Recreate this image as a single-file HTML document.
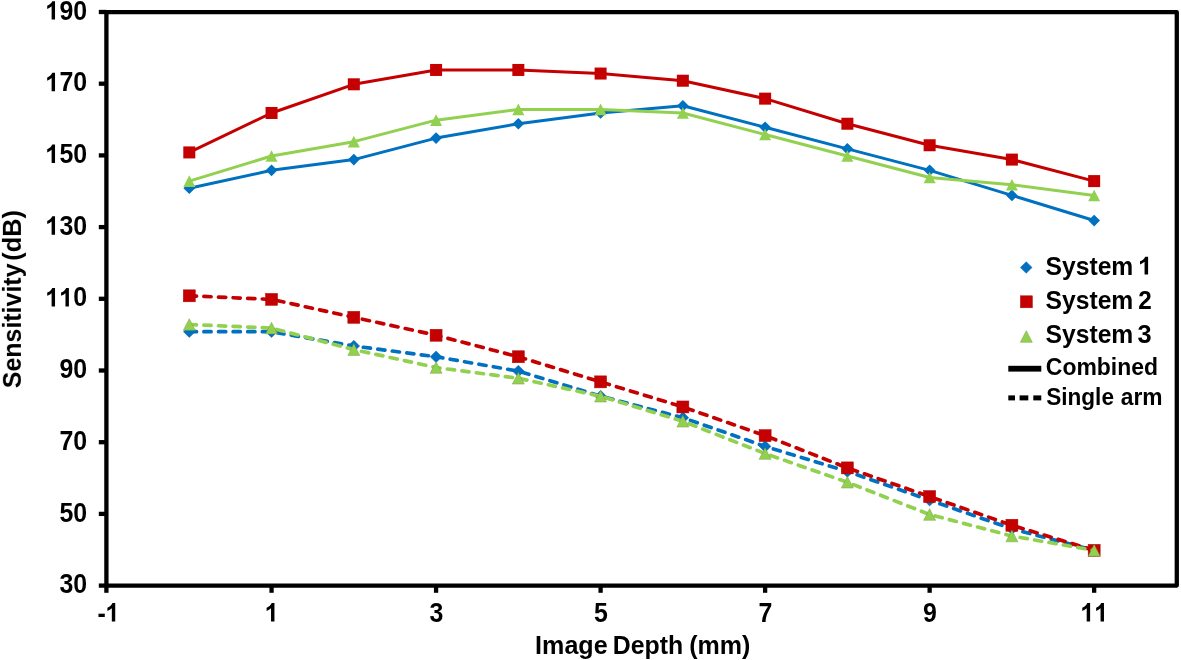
<!DOCTYPE html>
<html><head><meta charset="utf-8"><style>
html,body{margin:0;padding:0;background:#fff;}
svg{display:block;}
text{will-change:transform;}
text{font-family:"Liberation Sans",sans-serif;font-weight:bold;font-size:26px;fill:#000;}
</style></head><body>
<svg width="1181" height="660" viewBox="0 0 1181 660">
<rect width="1181" height="660" fill="#fff"/>
<rect x="106.4" y="12.2" width="1070.4" height="573.4" fill="none" stroke="#000" stroke-width="4.3" stroke-linejoin="round"/>
<line x1="98.8" y1="585.6" x2="106.4" y2="585.6" stroke="#000" stroke-width="4.3"/>
<line x1="98.8" y1="513.9" x2="106.4" y2="513.9" stroke="#000" stroke-width="4.3"/>
<line x1="98.8" y1="442.2" x2="106.4" y2="442.2" stroke="#000" stroke-width="4.3"/>
<line x1="98.8" y1="370.5" x2="106.4" y2="370.5" stroke="#000" stroke-width="4.3"/>
<line x1="98.8" y1="298.8" x2="106.4" y2="298.8" stroke="#000" stroke-width="4.3"/>
<line x1="98.8" y1="227.1" x2="106.4" y2="227.1" stroke="#000" stroke-width="4.3"/>
<line x1="98.8" y1="155.4" x2="106.4" y2="155.4" stroke="#000" stroke-width="4.3"/>
<line x1="98.8" y1="83.7" x2="106.4" y2="83.7" stroke="#000" stroke-width="4.3"/>
<line x1="98.8" y1="12" x2="106.4" y2="12" stroke="#000" stroke-width="4.3"/>
<line x1="106.4" y1="585.6" x2="106.4" y2="592.8" stroke="#000" stroke-width="4.3"/>
<line x1="271.56" y1="585.6" x2="271.56" y2="592.8" stroke="#000" stroke-width="4.3"/>
<line x1="436.08" y1="585.6" x2="436.08" y2="592.8" stroke="#000" stroke-width="4.3"/>
<line x1="600.6" y1="585.6" x2="600.6" y2="592.8" stroke="#000" stroke-width="4.3"/>
<line x1="765.12" y1="585.6" x2="765.12" y2="592.8" stroke="#000" stroke-width="4.3"/>
<line x1="929.64" y1="585.6" x2="929.64" y2="592.8" stroke="#000" stroke-width="4.3"/>
<line x1="1094.16" y1="585.6" x2="1094.16" y2="592.8" stroke="#000" stroke-width="4.3"/>
<text transform="translate(87.1 593.2) scale(0.93 1)" x="-29.81 -14.9" y="0 0" style="font-size:26.8px">30</text>
<text transform="translate(87.1 521.5) scale(0.93 1)" x="-29.81 -14.9" y="0 0" style="font-size:26.8px">50</text>
<text transform="translate(87.1 449.8) scale(0.93 1)" x="-29.81 -14.9" y="0 0" style="font-size:26.8px">70</text>
<text transform="translate(87.1 378.1) scale(0.93 1)" x="-29.81 -14.9" y="0 0" style="font-size:26.8px">90</text>
<text transform="translate(87.1 306.4) scale(0.93 1)" x="-14.9" y="0" style="font-size:26.8px">0</text><path d="M782 0H501V1013Q347 875 138 809V1053Q248 1088 377 1184Q506 1280 554 1409H782Z" transform="translate(45.52 306.4) scale(0.012170 -0.013086)"/><path d="M782 0H501V1013Q347 875 138 809V1053Q248 1088 377 1184Q506 1280 554 1409H782Z" transform="translate(59.38 306.4) scale(0.012170 -0.013086)"/>
<text transform="translate(87.1 234.7) scale(0.93 1)" x="-29.81 -14.9" y="0 0" style="font-size:26.8px">30</text><path d="M782 0H501V1013Q347 875 138 809V1053Q248 1088 377 1184Q506 1280 554 1409H782Z" transform="translate(45.52 234.7) scale(0.012170 -0.013086)"/>
<text transform="translate(87.1 163) scale(0.93 1)" x="-29.81 -14.9" y="0 0" style="font-size:26.8px">50</text><path d="M782 0H501V1013Q347 875 138 809V1053Q248 1088 377 1184Q506 1280 554 1409H782Z" transform="translate(45.52 163) scale(0.012170 -0.013086)"/>
<text transform="translate(87.1 91.3) scale(0.93 1)" x="-29.81 -14.9" y="0 0" style="font-size:26.8px">70</text><path d="M782 0H501V1013Q347 875 138 809V1053Q248 1088 377 1184Q506 1280 554 1409H782Z" transform="translate(45.52 91.3) scale(0.012170 -0.013086)"/>
<text transform="translate(87.1 19.6) scale(0.93 1)" x="-29.81 -14.9" y="0 0" style="font-size:26.8px">90</text><path d="M782 0H501V1013Q347 875 138 809V1053Q248 1088 377 1184Q506 1280 554 1409H782Z" transform="translate(45.52 19.6) scale(0.012170 -0.013086)"/>
<text transform="translate(108.5 621.5) scale(0.93 1)" x="-11.91" y="1" style="font-size:26.8px">-</text><path d="M782 0H501V1013Q347 875 138 809V1053Q248 1088 377 1184Q506 1280 554 1409H782Z" transform="translate(105.72 621.5) scale(0.012170 -0.013086)"/>
<path d="M782 0H501V1013Q347 875 138 809V1053Q248 1088 377 1184Q506 1280 554 1409H782Z" transform="translate(264.93 621.5) scale(0.012170 -0.013086)"/>
<text transform="translate(436.38 621.5) scale(0.93 1)" x="-7.45" y="0" style="font-size:26.8px">3</text>
<text transform="translate(600.9 621.5) scale(0.93 1)" x="-7.45" y="0" style="font-size:26.8px">5</text>
<text transform="translate(765.42 621.5) scale(0.93 1)" x="-7.45" y="0" style="font-size:26.8px">7</text>
<text transform="translate(929.94 621.5) scale(0.93 1)" x="-7.45" y="0" style="font-size:26.8px">9</text>
<path d="M782 0H501V1013Q347 875 138 809V1053Q248 1088 377 1184Q506 1280 554 1409H782Z" transform="translate(1080.6 621.5) scale(0.012170 -0.013086)"/><path d="M782 0H501V1013Q347 875 138 809V1053Q248 1088 377 1184Q506 1280 554 1409H782Z" transform="translate(1094.46 621.5) scale(0.012170 -0.013086)"/>
<text x="535.12" y="653.8" textLength="72.54" lengthAdjust="spacingAndGlyphs" style="font-size:26.6px">Image</text>
<text x="612.84" y="653.8" textLength="70.4" lengthAdjust="spacingAndGlyphs" style="font-size:26.6px">Depth</text>
<text x="689.25" y="653.8" textLength="61.19" lengthAdjust="spacingAndGlyphs" style="font-size:26.6px">(mm)</text>
<g transform="translate(20.9 0) rotate(-90)"><text x="-388.22" y="0" textLength="124.75" lengthAdjust="spacingAndGlyphs">Sensitivity</text><text x="-260.66" y="0" textLength="50.73" lengthAdjust="spacingAndGlyphs">(dB)</text></g>
<path d="M189.3 188.27 L271.56 170.34 L353.82 159.59 L436.08 138.08 L518.34 123.74 L600.6 112.98 L682.86 105.81 L765.12 127.32 L847.38 148.83 L929.64 170.34 L1011.9 195.44 L1094.16 220.53" fill="none" stroke="#0070C0" stroke-width="3.0" stroke-linecap="round" stroke-linejoin="round"/>
<path d="M189.3 182.42L195.15 188.27L189.3 194.12L183.45 188.27Z" fill="#0070C0"/>
<path d="M271.56 164.49L277.41 170.34L271.56 176.19L265.71 170.34Z" fill="#0070C0"/>
<path d="M353.82 153.74L359.67 159.59L353.82 165.44L347.97 159.59Z" fill="#0070C0"/>
<path d="M436.08 132.23L441.93 138.08L436.08 143.93L430.23 138.08Z" fill="#0070C0"/>
<path d="M518.34 117.89L524.19 123.74L518.34 129.59L512.49 123.74Z" fill="#0070C0"/>
<path d="M600.6 107.13L606.45 112.98L600.6 118.83L594.75 112.98Z" fill="#0070C0"/>
<path d="M682.86 99.96L688.71 105.81L682.86 111.66L677.01 105.81Z" fill="#0070C0"/>
<path d="M765.12 121.47L770.97 127.32L765.12 133.17L759.27 127.32Z" fill="#0070C0"/>
<path d="M847.38 142.98L853.23 148.83L847.38 154.68L841.53 148.83Z" fill="#0070C0"/>
<path d="M929.64 164.49L935.49 170.34L929.64 176.19L923.79 170.34Z" fill="#0070C0"/>
<path d="M1011.9 189.59L1017.75 195.44L1011.9 201.29L1006.05 195.44Z" fill="#0070C0"/>
<path d="M1094.16 214.68L1100.01 220.53L1094.16 226.38L1088.31 220.53Z" fill="#0070C0"/>
<path d="M189.3 152.42 L271.56 112.98 L353.82 84.3 L436.08 69.96 L518.34 69.96 L600.6 73.55 L682.86 80.72 L765.12 98.64 L847.38 123.74 L929.64 145.25 L1011.9 159.59 L1094.16 181.1" fill="none" stroke="#C50000" stroke-width="3.0" stroke-linecap="round" stroke-linejoin="round"/>
<rect x="183.3" y="146.42" width="12" height="12" fill="#C50000"/>
<rect x="265.56" y="106.98" width="12" height="12" fill="#C50000"/>
<rect x="347.82" y="78.3" width="12" height="12" fill="#C50000"/>
<rect x="430.08" y="63.96" width="12" height="12" fill="#C50000"/>
<rect x="512.34" y="63.96" width="12" height="12" fill="#C50000"/>
<rect x="594.6" y="67.55" width="12" height="12" fill="#C50000"/>
<rect x="676.86" y="74.72" width="12" height="12" fill="#C50000"/>
<rect x="759.12" y="92.64" width="12" height="12" fill="#C50000"/>
<rect x="841.38" y="117.74" width="12" height="12" fill="#C50000"/>
<rect x="923.64" y="139.25" width="12" height="12" fill="#C50000"/>
<rect x="1005.9" y="153.59" width="12" height="12" fill="#C50000"/>
<rect x="1088.16" y="175.1" width="12" height="12" fill="#C50000"/>
<path d="M189.3 181.1 L271.56 156 L353.82 141.66 L436.08 120.15 L518.34 109.4 L600.6 109.4 L682.86 112.98 L765.12 134.49 L847.38 156 L929.64 177.51 L1011.9 184.68 L1094.16 195.44" fill="none" stroke="#92D050" stroke-width="3.0" stroke-linecap="round" stroke-linejoin="round"/>
<path d="M189.3 175.3L195.3 186.9L183.3 186.9Z" fill="#92D050"/>
<path d="M271.56 150.2L277.56 161.8L265.56 161.8Z" fill="#92D050"/>
<path d="M353.82 135.86L359.82 147.46L347.82 147.46Z" fill="#92D050"/>
<path d="M436.08 114.35L442.08 125.95L430.08 125.95Z" fill="#92D050"/>
<path d="M518.34 103.6L524.34 115.2L512.34 115.2Z" fill="#92D050"/>
<path d="M600.6 103.6L606.6 115.2L594.6 115.2Z" fill="#92D050"/>
<path d="M682.86 107.18L688.86 118.78L676.86 118.78Z" fill="#92D050"/>
<path d="M765.12 128.69L771.12 140.29L759.12 140.29Z" fill="#92D050"/>
<path d="M847.38 150.2L853.38 161.8L841.38 161.8Z" fill="#92D050"/>
<path d="M929.64 171.71L935.64 183.31L923.64 183.31Z" fill="#92D050"/>
<path d="M1011.9 178.88L1017.9 190.48L1005.9 190.48Z" fill="#92D050"/>
<path d="M1094.16 189.64L1100.16 201.24L1088.16 201.24Z" fill="#92D050"/>
<path d="M189.3 331.67 L271.56 331.67 L353.82 346.01 L436.08 356.76 L518.34 371.1 L600.6 396.2 L682.86 417.71 L765.12 446.39 L847.38 471.48 L929.64 500.16 L1011.9 528.84 L1094.16 550.35" fill="none" stroke="#0070C0" stroke-width="3.7" stroke-linecap="round" stroke-linejoin="round" stroke-dasharray="7.2 7.41"/>
<path d="M189.3 325.82L195.15 331.67L189.3 337.52L183.45 331.67Z" fill="#0070C0" stroke="#1562A8" stroke-width="0.5"/>
<path d="M271.56 325.82L277.41 331.67L271.56 337.52L265.71 331.67Z" fill="#0070C0" stroke="#1562A8" stroke-width="0.5"/>
<path d="M353.82 340.16L359.67 346.01L353.82 351.86L347.97 346.01Z" fill="#0070C0" stroke="#1562A8" stroke-width="0.5"/>
<path d="M436.08 350.91L441.93 356.76L436.08 362.61L430.23 356.76Z" fill="#0070C0" stroke="#1562A8" stroke-width="0.5"/>
<path d="M518.34 365.25L524.19 371.1L518.34 376.95L512.49 371.1Z" fill="#0070C0" stroke="#1562A8" stroke-width="0.5"/>
<path d="M600.6 390.35L606.45 396.2L600.6 402.05L594.75 396.2Z" fill="#0070C0" stroke="#1562A8" stroke-width="0.5"/>
<path d="M682.86 411.86L688.71 417.71L682.86 423.56L677.01 417.71Z" fill="#0070C0" stroke="#1562A8" stroke-width="0.5"/>
<path d="M765.12 440.54L770.97 446.39L765.12 452.24L759.27 446.39Z" fill="#0070C0" stroke="#1562A8" stroke-width="0.5"/>
<path d="M847.38 465.63L853.23 471.48L847.38 477.33L841.53 471.48Z" fill="#0070C0" stroke="#1562A8" stroke-width="0.5"/>
<path d="M929.64 494.31L935.49 500.16L929.64 506.01L923.79 500.16Z" fill="#0070C0" stroke="#1562A8" stroke-width="0.5"/>
<path d="M1011.9 522.99L1017.75 528.84L1011.9 534.69L1006.05 528.84Z" fill="#0070C0" stroke="#1562A8" stroke-width="0.5"/>
<path d="M1094.16 544.5L1100.01 550.35L1094.16 556.2L1088.31 550.35Z" fill="#0070C0" stroke="#1562A8" stroke-width="0.5"/>
<path d="M189.3 295.82 L271.56 299.4 L353.82 317.33 L436.08 335.25 L518.34 356.76 L600.6 381.86 L682.86 406.95 L765.12 435.63 L847.38 467.9 L929.64 496.58 L1011.9 525.25 L1094.16 550.35" fill="none" stroke="#C50000" stroke-width="3.7" stroke-linecap="round" stroke-linejoin="round" stroke-dasharray="7.2 7.41"/>
<rect x="183.3" y="289.82" width="12" height="12" fill="#C50000" stroke="#A80A0A" stroke-width="0.5"/>
<rect x="265.56" y="293.4" width="12" height="12" fill="#C50000" stroke="#A80A0A" stroke-width="0.5"/>
<rect x="347.82" y="311.33" width="12" height="12" fill="#C50000" stroke="#A80A0A" stroke-width="0.5"/>
<rect x="430.08" y="329.25" width="12" height="12" fill="#C50000" stroke="#A80A0A" stroke-width="0.5"/>
<rect x="512.34" y="350.76" width="12" height="12" fill="#C50000" stroke="#A80A0A" stroke-width="0.5"/>
<rect x="594.6" y="375.86" width="12" height="12" fill="#C50000" stroke="#A80A0A" stroke-width="0.5"/>
<rect x="676.86" y="400.95" width="12" height="12" fill="#C50000" stroke="#A80A0A" stroke-width="0.5"/>
<rect x="759.12" y="429.63" width="12" height="12" fill="#C50000" stroke="#A80A0A" stroke-width="0.5"/>
<rect x="841.38" y="461.9" width="12" height="12" fill="#C50000" stroke="#A80A0A" stroke-width="0.5"/>
<rect x="923.64" y="490.58" width="12" height="12" fill="#C50000" stroke="#A80A0A" stroke-width="0.5"/>
<rect x="1005.9" y="519.25" width="12" height="12" fill="#C50000" stroke="#A80A0A" stroke-width="0.5"/>
<rect x="1088.16" y="544.35" width="12" height="12" fill="#C50000" stroke="#A80A0A" stroke-width="0.5"/>
<path d="M189.3 324.5 L271.56 328.08 L353.82 349.59 L436.08 367.52 L518.34 378.27 L600.6 396.2 L682.86 421.29 L765.12 453.56 L847.38 482.24 L929.64 514.5 L1011.9 536.01 L1094.16 550.35" fill="none" stroke="#92D050" stroke-width="3.7" stroke-linecap="round" stroke-linejoin="round" stroke-dasharray="7.2 7.41"/>
<path d="M189.3 318.7L195.3 330.3L183.3 330.3Z" fill="#92D050" stroke="#7E9E44" stroke-width="0.5"/>
<path d="M271.56 322.28L277.56 333.88L265.56 333.88Z" fill="#92D050" stroke="#7E9E44" stroke-width="0.5"/>
<path d="M353.82 343.79L359.82 355.39L347.82 355.39Z" fill="#92D050" stroke="#7E9E44" stroke-width="0.5"/>
<path d="M436.08 361.72L442.08 373.32L430.08 373.32Z" fill="#92D050" stroke="#7E9E44" stroke-width="0.5"/>
<path d="M518.34 372.47L524.34 384.07L512.34 384.07Z" fill="#92D050" stroke="#7E9E44" stroke-width="0.5"/>
<path d="M600.6 390.4L606.6 402L594.6 402Z" fill="#92D050" stroke="#7E9E44" stroke-width="0.5"/>
<path d="M682.86 415.49L688.86 427.09L676.86 427.09Z" fill="#92D050" stroke="#7E9E44" stroke-width="0.5"/>
<path d="M765.12 447.76L771.12 459.36L759.12 459.36Z" fill="#92D050" stroke="#7E9E44" stroke-width="0.5"/>
<path d="M847.38 476.44L853.38 488.04L841.38 488.04Z" fill="#92D050" stroke="#7E9E44" stroke-width="0.5"/>
<path d="M929.64 508.7L935.64 520.3L923.64 520.3Z" fill="#92D050" stroke="#7E9E44" stroke-width="0.5"/>
<path d="M1011.9 530.21L1017.9 541.81L1005.9 541.81Z" fill="#92D050" stroke="#7E9E44" stroke-width="0.5"/>
<path d="M1094.16 544.55L1100.16 556.15L1088.16 556.15Z" fill="#92D050" stroke="#7E9E44" stroke-width="0.5"/>
<path d="M1026.2 261.65L1032.05 267.5L1026.2 273.35L1020.35 267.5Z" fill="#0070C0" stroke="#1562A8" stroke-width="0.5"/>
<rect x="1020.4" y="295.8" width="12" height="12" fill="#C50000" stroke="#A80A0A" stroke-width="0.5"/>
<path d="M1026.3 330.7L1032.3 342.3L1020.3 342.3Z" fill="#92D050" stroke="#7E9E44" stroke-width="0.5"/>
<rect x="1008.3" y="365.8" width="33" height="5.8" fill="#000"/>
<rect x="1008.3" y="395.4" width="6.7" height="5" fill="#000"/>
<rect x="1019.6" y="395.4" width="8.7" height="5" fill="#000"/>
<rect x="1033.3" y="395.4" width="7.95" height="5" fill="#000"/>
<text x="1045.49" y="274.6" textLength="87.84" lengthAdjust="spacingAndGlyphs" style="font-size:25.8px">System</text>
<path d="M782 0H501V1013Q347 875 138 809V1053Q248 1088 377 1184Q506 1280 554 1409H782Z" transform="translate(1138.25 274.6) scale(0.012598 -0.012598)"/>
<text x="1045.49" y="308.6" textLength="87.84" lengthAdjust="spacingAndGlyphs" style="font-size:25.8px">System</text>
<text x="1138.36" y="308.6" textLength="13.52" lengthAdjust="spacingAndGlyphs" style="font-size:25.8px">2</text>
<text x="1045.49" y="342.8" textLength="87.84" lengthAdjust="spacingAndGlyphs" style="font-size:25.8px">System</text>
<text x="1137.62" y="342.8" textLength="14.1" lengthAdjust="spacingAndGlyphs" style="font-size:25.8px">3</text>
<text x="1045.86" y="374.5" textLength="112.15" lengthAdjust="spacingAndGlyphs" style="font-size:23.2px">Combined</text>
<text x="1046.15" y="405" textLength="67.82" lengthAdjust="spacingAndGlyphs" style="font-size:23.2px">Single</text>
<text x="1120.83" y="405" textLength="41.78" lengthAdjust="spacingAndGlyphs" style="font-size:23.2px">arm</text>
</svg>
</body></html>
